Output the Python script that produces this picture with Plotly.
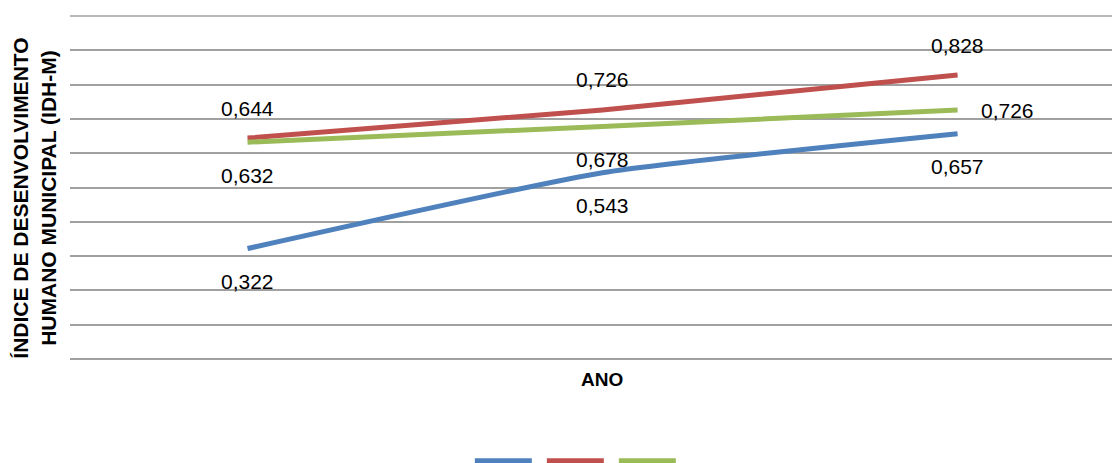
import plotly.graph_objects as go

anos = ["1991", "2000", "2010"]
idhm_educacao = [0.322, 0.543, 0.657]
idhm_longevidade = [0.644, 0.726, 0.828]
idhm_renda = [0.632, 0.678, 0.726]

series = [
    ("", idhm_educacao, "#4f81bd", ["below", "below", "below"]),
    ("", idhm_longevidade, "#c0504d", ["above", "above", "above"]),
    ("", idhm_renda, "#9bbb59", ["below", "below", "right"]),
]

fig = go.Figure()
annotations = []
for name, vals, color, poss in series:
    fig.add_trace(go.Scatter(
        x=list(range(len(anos))), y=vals, mode="lines", name=name,
        line=dict(color=color, width=5, shape="spline", smoothing=0.5),
        showlegend=True, hoverinfo="skip",
    ))
    for i, (v, p) in enumerate(zip(vals, poss)):
        txt = f"{v:.3f}".replace(".", ",")
        a = dict(x=i, y=v, xref="x", yref="y", text=txt, showarrow=False,
                 font=dict(family="Liberation Sans, Arial", size=21, color="#000"))
        if p == "above":
            a.update(yshift=30)
        elif p == "below":
            a.update(yshift=-33)
        else:
            a.update(xanchor="left", xshift=21, yshift=-1)
        annotations.append(a)

# plot area spans 1058 px; paper coords below computed for that width
annotations.append(dict(
    xref="paper", yref="paper", x=-0.0335, y=0.469, textangle=-90,
    text="<b>ÍNDICE DE DESENVOLVIMENTO<br>HUMANO MUNICIPAL (IDH-M)</b>",
    showarrow=False, xanchor="center", yanchor="middle",
    font=dict(family="Liberation Sans, Arial", size=21, color="#000"),
))
annotations.append(dict(
    xref="paper", yref="paper", x=0.503, y=-0.061,
    text="<b>ANO</b>", showarrow=False, xanchor="center", yanchor="middle",
    font=dict(family="Liberation Sans, Arial", size=19, color="#000"),
))

fig.update_layout(
    width=1120, height=463,
    margin=dict(l=62, r=0, t=8, b=112, autoexpand=False),
    paper_bgcolor="white", plot_bgcolor="white",
    xaxis=dict(range=[-0.5, 2.48], showticklabels=False, showgrid=False,
               zeroline=False, ticks="", automargin=False),
    yaxis=dict(range=[0, 1], dtick=0.1, showticklabels=False, showgrid=True,
               gridcolor="#a0a0a0", gridwidth=1.5, zeroline=True, automargin=False,
               zerolinecolor="#a0a0a0", zerolinewidth=1.5, ticks=""),
    legend=dict(orientation="h", x=0.48, xanchor="center", y=-0.297, yanchor="middle",
                itemwidth=57, font=dict(size=1)),
    annotations=annotations,
    showlegend=True,
)
fig.add_shape(type="line", xref="paper", yref="paper", x0=0, x1=1, y0=1, y1=1,
              line=dict(color="#a0a0a0", width=1.5))

fig.write_html("out.html")
